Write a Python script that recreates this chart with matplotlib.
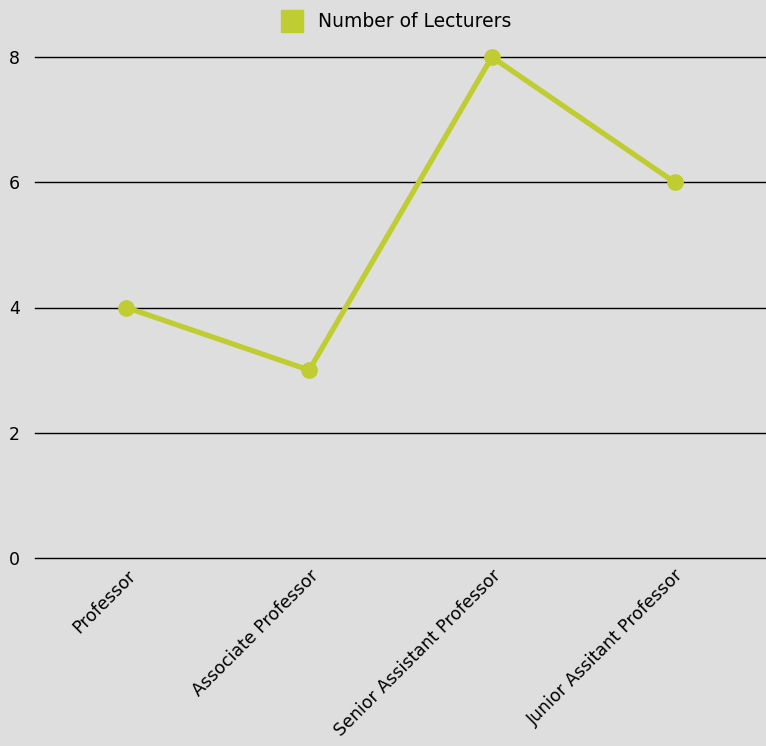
import matplotlib
matplotlib.use("Agg")
import matplotlib.pyplot as plt
from matplotlib.lines import Line2D

categories = ["Professor", "Associate Professor", "Senior Assistant Professor", "Junior Assitant Professor"]
lecturers = [4, 3, 8, 6]
series_name = "Number of Lecturers"

bg = "#dedede"
green = "#bfcc32"

fig = plt.figure(figsize=(7.66, 7.46), dpi=100, facecolor=bg)
ax = fig.add_axes([35 / 766, 1 - 558 / 746, 731 / 766, 501 / 746])
ax.set_facecolor(bg)

x = list(range(len(categories)))
ax.plot(x, lecturers, color=green, linewidth=3.8, marker="o", markersize=11,
        solid_capstyle="round", zorder=3, clip_on=False)

ax.set_xlim(-0.5, len(categories) - 0.5)
ax.set_ylim(0, 8)
ax.set_yticks([0, 2, 4, 6, 8])
ax.yaxis.grid(True, color="black", linewidth=1)
ax.set_axisbelow(True)
for g in ax.get_ygridlines():
    g.set_clip_on(False)
for s in ax.spines.values():
    s.set_visible(False)
ax.tick_params(axis="y", length=0, pad=11, labelsize=12.5)
ax.tick_params(axis="x", length=0, pad=6)
ax.set_xticks(x)
ax.set_xticklabels(categories, rotation=45, ha="right", rotation_mode="anchor", fontsize=12.5)

handle = Line2D([], [], linestyle="none", marker="s", markersize=16.5,
                markerfacecolor=green, markeredgecolor=green)
fig.legend([handle], [series_name], loc="upper center", bbox_to_anchor=(397 / 766, 1.0),
           frameon=False, fontsize=13.5, handlelength=1.0, handletextpad=0.9, borderpad=0.15)

fig.savefig("out.png", dpi=100, facecolor=bg)
